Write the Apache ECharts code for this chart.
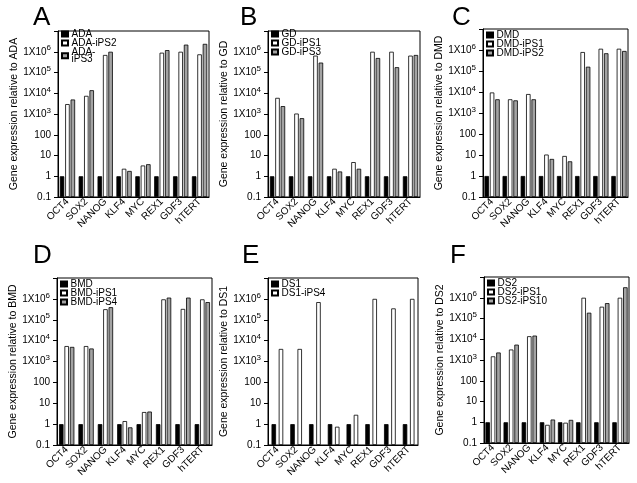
<!DOCTYPE html>
<html><head><meta charset="utf-8">
<script src="https://cdn.jsdelivr.net/npm/echarts@6/dist/echarts.min.js"></script>
<style>html,body{margin:0;padding:0;background:#fff}#c{width:637px;height:483px}</style>
</head><body><div id="c"></div>
<script>
const categories = ['OCT4','SOX2','NANOG','KLF4','MYC','REX1','GDF3','hTERT'];
const yTickLabels = {'-1':'0.1','0':'1','1':'10','2':'100','3':'1X10{s|3}','4':'1X10{s|4}','5':'1X10{s|5}','6':'1X10{s|6}','7':''};

// Panel A
const ada      = [1,1,1,1,1,1,1,1];
const adaIPS2  = [3000,7500,700000,2.3,3.3,900000,1000000,750000];
const adaIPS3  = [5000,14000,1000000,1.8,3.8,1200000,2200000,2400000];
// Panel B
const gd       = [1,1,1,1,1,1,1,1];
const gdIPS1   = [6000,1050,650000,2.3,4.8,1000000,1000000,650000];
const gdIPS3   = [2400,630,300000,1.7,2.3,500000,180000,700000];
// Panel C
const dmd      = [1,1,1,1,1,1,1,1];
const dmdIPS1  = [9500,4500,8000,10.5,9,800000,1150000,1150000];
const dmdIPS2  = [4500,4000,4500,6.5,5,160000,700000,900000];
// Panel D
const bmd      = [1,1,1,1,1,1,1,1];
const bmdIPS1  = [5500,5500,320000,1.4,3.8,950000,330000,950000];
const bmdIPS4  = [5000,4200,400000,0.7,4,1150000,1150000,700000];
// Panel E
const ds1      = [1,1,1,1,1,1,1,1];
const ds1IPS4  = [4000,4000,700000,0.75,2.8,1000000,350000,1000000];
// Panel F
const ds2      = [1,1,1,1,1,1,1,1];
const ds2IPS1  = [1500,3200,14000,0.75,0.95,1000000,370000,1000000];
const ds2IPS10 = [2300,5500,15000,1.35,1.3,190000,550000,3200000];

const FONT = 'Liberation Sans';
const panels = [
  {letter:'A', ref:'ADA', grid:{left:58,top:31,width:151,height:166}, lx:33, ly:5, legTop:29,
   series:[['ADA',ada,'#000'],['ADA-iPS2',adaIPS2,'#fff'],['ADA-\niPS3',adaIPS3,'#a3a3a3']]},
  {letter:'B', ref:'GD', grid:{left:268,top:31,width:152,height:166}, lx:240, ly:5, legTop:29,
   series:[['GD',gd,'#000'],['GD-iPS1',gdIPS1,'#fff'],['GD-iPS3',gdIPS3,'#a3a3a3']]},
  {letter:'C', ref:'DMD', grid:{left:483,top:29,width:145,height:168}, lx:452, ly:5, legTop:30,
   series:[['DMD',dmd,'#000'],['DMD-iPS1',dmdIPS1,'#fff'],['DMD-iPS2',dmdIPS2,'#a3a3a3']]},
  {letter:'D', ref:'BMD', grid:{left:57,top:278,width:155,height:167}, lx:33, ly:243, legTop:279,
   series:[['BMD',bmd,'#000'],['BMD-iPS1',bmdIPS1,'#fff'],['BMD-iPS4',bmdIPS4,'#a3a3a3']]},
  {letter:'E', ref:'DS1', grid:{left:268,top:278,width:150,height:167}, lx:242, ly:243, legTop:279,
   series:[['DS1',ds1,'#000'],['DS1-iPS4',ds1IPS4,'#fff']]},
  {letter:'F', ref:'DS2', grid:{left:484,top:277,width:145,height:166}, lx:450, ly:243, legTop:278,
   series:[['DS2',ds2,'#000'],['DS2-iPS1',ds2IPS1,'#fff'],['DS2-iPS10',ds2IPS10,'#a3a3a3']]}
];

const option = {animation:false, backgroundColor:'#fff', title:[], grid:[], xAxis:[], yAxis:[], legend:[], series:[]};
panels.forEach((p, i) => {
  option.title.push({text:p.letter, left:p.lx, top:p.ly, padding:0,
    textStyle:{fontFamily:FONT, fontSize:26, fontWeight:'normal', color:'#000'}});
  option.grid.push(Object.assign({show:true, borderColor:'#000', borderWidth:1, backgroundColor:'transparent'}, p.grid));
  option.xAxis.push({type:'category', gridIndex:i, data:categories,
    axisTick:{show:false}, axisLine:{lineStyle:{color:'#000', width:1}},
    axisLabel:{rotate:45, interval:0, margin:3, fontSize:10, fontFamily:FONT, color:'#000'}});
  option.yAxis.push({type:'log', logBase:10, gridIndex:i, min:0.1, max:1e7, startValue:0.1, splitNumber:8,
    name:'Gene expression relative to ' + p.ref, nameLocation:'middle', nameGap:37,
    nameTextStyle:{fontFamily:FONT, fontSize:10.5, color:'#000'},
    splitLine:{show:false},
    axisLine:{show:true, lineStyle:{color:'#000', width:1}},
    axisTick:{show:true, length:4, lineStyle:{color:'#000'}},
    axisLabel:{margin:7, fontSize:10, fontFamily:FONT, color:'#000',
      formatter: v => yTickLabels[String(Math.round(Math.log10(v)))] || '',
      rich:{s:{fontSize:8, fontFamily:FONT, color:'#000', padding:[0,0,7,0]}}}});
  option.legend.push({orient:'vertical', left:p.grid.left+3, top:p.legTop, padding:0,
    itemGap:-1, itemWidth:6, itemHeight:5, icon:'rect',
    textStyle:{fontFamily:FONT, fontSize:10, lineHeight:7.5, color:'#000', padding:[0,0,0,-1.5]},
    data:p.series.map(s => s[0])});
  const two = p.series.length === 2;
  p.series.forEach(s => {
    option.series.push({type:'bar', name:s[0], data:s[1], xAxisIndex:i, yAxisIndex:i,
      barWidth:4.5, barGap: two ? '60%' : '20%',
      itemStyle:{color:s[2], borderColor:'#000', borderWidth:0.8}});
  });
});
echarts.init(document.getElementById('c'), null, {renderer:'canvas'}).setOption(option);
</script></body></html>
